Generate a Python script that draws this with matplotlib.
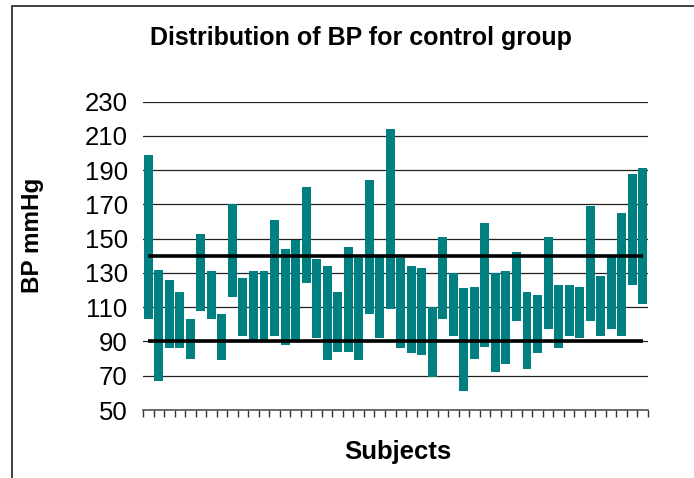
import matplotlib
matplotlib.use("Agg")
import matplotlib.pyplot as plt
from matplotlib.patches import Rectangle
import numpy as np

plt.rcParams['font.family'] = ['Liberation Sans', 'DejaVu Sans']

# Systolic (top) and diastolic (bottom) BP per subject
systolic = [199, 132, 126, 119, 103, 153, 131, 106, 170, 127,
            131, 131, 161, 144, 149, 180, 138, 134, 119, 145,
            139, 184, 140, 214, 139, 134, 133, 110, 151, 130,
            121, 122, 159, 130, 131, 142.5, 119, 117, 151, 123,
            123, 122, 169, 128, 140, 165, 188, 191]
diastolic = [103, 67, 86, 86, 80, 108, 103, 79, 116, 93,
             90, 90, 93, 88, 90, 124, 92, 79, 84, 84,
             79, 106, 92, 109, 86, 83, 82, 69, 103, 93,
             61, 80, 87, 72, 77, 102, 74, 83, 97, 86,
             93, 92, 102, 93, 97, 93, 123, 112]
ref_upper = 140
ref_lower = 90
yticks = [50, 70, 90, 110, 130, 150, 170, 190, 210, 230]

title = "Distribution of BP for control group"
xlabel = "Subjects"
ylabel = "BP mmHg"

n = len(systolic)
x = np.arange(n)
heights = np.array(systolic) - np.array(diastolic)

fig = plt.figure(figsize=(6.94, 4.78), dpi=100)
ax = fig.add_axes([143/694, 1 - 410/478, (648-143)/694, (410-101.7)/478])

ax.set_ylim(50, 230)
ax.set_xlim(-0.5, n - 0.5)
ax.set_yticks(yticks)
ax.yaxis.grid(True, color='#222222', linewidth=0.9)
ax.set_axisbelow(True)

ax.bar(x, heights, bottom=diastolic, width=0.85, color='#008080', zorder=2)

ax.plot([0, n - 1], [ref_upper, ref_upper], color='black', linewidth=2.6, zorder=3,
        solid_capstyle='butt')
ax.plot([0, n - 1], [ref_lower, ref_lower], color='black', linewidth=2.6, zorder=3,
        solid_capstyle='butt')

for s in ['left', 'right', 'top']:
    ax.spines[s].set_visible(False)
ax.spines['bottom'].set_color('#555555')
ax.spines['bottom'].set_linewidth(1.2)

ax.tick_params(axis='y', length=0, pad=11, labelsize=18.5)
ax.set_xticks(np.arange(-0.5, n, 1.0))
ax.set_xticklabels([])
ax.tick_params(axis='x', length=5, width=1, color='#333333', direction='out')

fig.text(361/694, 1 - 38/478, title, ha='center', va='center',
         fontsize=18, fontweight='bold')
fig.text(398/694, 1 - 452/478, xlabel, ha='center', va='center',
         fontsize=18.5, fontweight='bold')
fig.text(33/694, 1 - 235/478, ylabel, ha='center', va='center',
         rotation=90, fontsize=17.5, fontweight='bold')

# outer frame (left and top edges visible)
fig.patches.append(Rectangle((11.7/694, -0.1), 1.2, 1.1 - 5.7/478,
                             transform=fig.transFigure, fill=False,
                             edgecolor='#333333', linewidth=1.3))

fig.savefig('out.png', dpi=100)
